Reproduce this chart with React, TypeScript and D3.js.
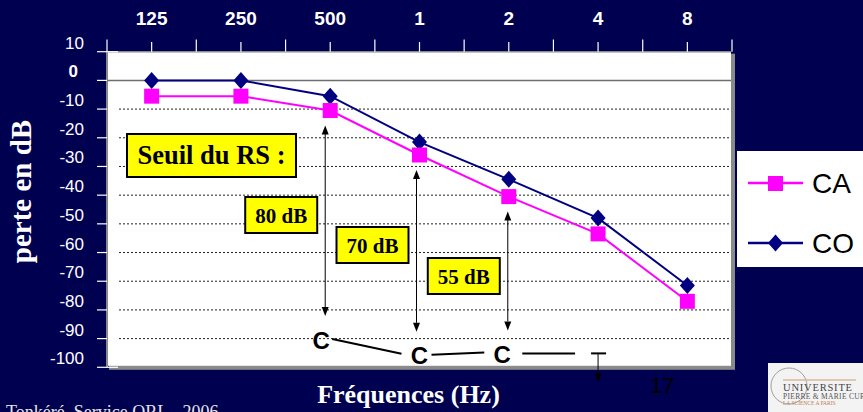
import React from "react";
import * as d3 from "d3";

// Audiogram: air conduction (CA) and bone conduction (CO) thresholds, in dB
const freqLabels = ["125", "250", "500", "1", "2", "4", "8"];
const caValues = [-5.5, -5.5, -10.5, -26, -40.5, -53.5, -77];
const coValues = [0, 0, -5.5, -21.5, -34.5, -48, -71.5];
const yTickValues = [10, 0, -10, -20, -30, -40, -50, -60, -70, -80, -90, -100];

// Stapedial reflex (RS) thresholds above the CA threshold
const rsFreqs = ["500", "1", "2"];
const rsLevels = [80, 70, 55];
const rsLabels = ["80 dB", "70 dB", "55 dB"];
const rsAbsentFreq = "4";

const W = 863;
const H = 412;
const BG = "#000050";
const SANS = "'Liberation Sans', Arial, sans-serif";
const SERIF = "'Liberation Serif', 'Times New Roman', serif";

const plot = { left: 107, right: 732, top: 51.7, bottom: 367.3 };

// Label box placement for each RS arrow (top) and x shift of arrows / letters
const rsBoxTops = [197, 227, 258];
const rsArrowShift = [-5, -3, -1];
const rsLetterShift = [-9, 0, -6.5];

export default function App() {
  const x = d3
    .scaleBand<string>()
    .domain(freqLabels)
    .range([plot.left, plot.right])
    .paddingInner(0)
    .paddingOuter(0);
  const bw = x.bandwidth();
  const cx = (f: string) => (x(f) as number) + bw / 2;
  const y = d3.scaleLinear().domain([-100, 10]).range([plot.bottom, plot.top]);

  const line = d3
    .line<number>()
    .x((_, i) => cx(freqLabels[i]))
    .y((v) => y(v));

  const boundaries = d3.range(freqLabels.length + 1).map((i) => plot.left + i * bw);

  const diamond = (px: number, py: number) =>
    `M${px},${py - 8.5} L${px + 7.5},${py} L${px},${py + 8.5} L${px - 7.5},${py} Z`;

  // RS points (the "C" letters) computed from CA threshold minus reflex level
  const rsPoints = rsFreqs.map((f, i) => {
    const idx = freqLabels.indexOf(f);
    const ca = caValues[idx];
    const val = ca - rsLevels[i];
    return {
      f,
      ax: cx(f) + rsArrowShift[i],
      lx: cx(f) + rsLetterShift[i],
      yTop: y(ca) + 15,
      yC: y(val),
      label: rsLabels[i],
      boxTop: rsBoxTops[i],
    };
  });
  const absentX = cx(rsAbsentFreq);
  const lastC = rsPoints[rsPoints.length - 1];
  const absentY = lastC.yC - 1;

  const arrowHead = (px: number, py: number, dir: 1 | -1) =>
    `M${px - 3.5},${py - dir * 9} L${px},${py} L${px + 3.5},${py - dir * 9} Z`;

  return (
    <div style={{ position: "fixed", left: 0, top: 0, width: W, height: H }}>
      <svg width={W} height={H} viewBox={`0 0 ${W} ${H}`} style={{ display: "block" }}>
        <rect x={0} y={0} width={W} height={H} fill={BG} />

        {/* plot shadow and area */}
        <rect
          x={plot.left + 2}
          y={plot.top + 2}
          width={plot.right - plot.left + 1}
          height={plot.bottom - plot.top + 0.5}
          fill="#8a8a8a"
        />
        <rect
          x={plot.left}
          y={plot.top}
          width={plot.right - plot.left - 1}
          height={plot.bottom - plot.top - 1.5}
          fill="#ffffff"
        />
        <line x1={plot.left} x2={plot.right - 1} y1={plot.top} y2={plot.top} stroke="#8a8a8a" strokeWidth={1.5} />
        <line x1={plot.left} x2={plot.left} y1={plot.top} y2={plot.bottom} stroke="#8a8a8a" strokeWidth={2} />

        {/* grid */}
        {yTickValues
          .filter((v) => v < 10 && v > -100)
          .map((v) =>
            v === 0 ? (
              <line key={v} x1={plot.left} x2={plot.right - 1} y1={y(v)} y2={y(v)} stroke="#6e6e6e" strokeWidth={1.5} />
            ) : (
              <line
                key={v}
                x1={plot.left + 12}
                x2={plot.right - 1}
                y1={y(v)}
                y2={y(v)}
                stroke="#222"
                strokeWidth={1}
                strokeDasharray="2 2"
              />
            )
          )}

        {/* y axis ticks and labels */}
        {yTickValues.map((v) => (
          <g key={v}>
            <line x1={97} x2={v === 10 || v === -100 ? 118 : 107} y1={y(v)} y2={y(v)} stroke="#ffffff" strokeWidth={1.2} />
            <text
              x={v === 0 ? 78 : 84}
              y={y(v) - 3}
              textAnchor="end"
              fontFamily={SANS}
              fontSize={17}
              fontWeight={v === 0 ? "bold" : "normal"}
              fill="#ffffff"
            >
              {v}
            </text>
          </g>
        ))}

        {/* top frequency axis */}
        {boundaries.map((bx, i) => (
          <line key={"b" + i} x1={bx} x2={bx} y1={39.5} y2={plot.top} stroke="#ffffff" strokeWidth={1.2} />
        ))}
        {freqLabels.map((f) => (
          <g key={f}>
            <line x1={cx(f)} x2={cx(f)} y1={42} y2={plot.top} stroke="#ffffff" strokeWidth={1.2} />
            <text x={cx(f)} y={25} textAnchor="middle" fontFamily={SANS} fontSize={19} fontWeight="bold" fill="#ffffff">
              {f}
            </text>
          </g>
        ))}

        {/* series */}
        <path d={line(caValues) || ""} fill="none" stroke="#ff00ff" strokeWidth={2} />
        <path d={line(coValues) || ""} fill="none" stroke="#000080" strokeWidth={2} />
        {coValues.map((v, i) => (
          <path key={"co" + i} d={diamond(cx(freqLabels[i]), y(v))} fill="#000080" />
        ))}
        {caValues.map((v, i) => (
          <rect key={"ca" + i} x={cx(freqLabels[i]) - 7.5} y={y(v) - 7.5} width={15} height={15} fill="#ff00ff" />
        ))}

        {/* RS annotations */}
        <rect x={127} y={134} width={169} height={43} fill="#ffff00" stroke="#000" strokeWidth={2} />
        <text x={211.5} y={164} textAnchor="middle" fontFamily={SERIF} fontWeight="bold" fontSize={26.5} fill="#000">
          Seuil du RS :
        </text>

        {rsPoints.map((p) => (
          <g key={p.f}>
            <line x1={p.ax} x2={p.ax} y1={p.yTop + 8} y2={p.yC - 33} stroke="#000" strokeWidth={1} />
            <path d={arrowHead(p.ax, p.yTop, -1)} fill="#000" />
            <path d={arrowHead(p.ax, p.yC - 24, 1)} fill="#000" />
            <rect x={p.ax - 80} y={p.boxTop} width={72} height={36} fill="#ffff00" stroke="#000" strokeWidth={2} />
            <text
              x={p.ax - 44}
              y={p.boxTop + 25.5}
              textAnchor="middle"
              fontFamily={SERIF}
              fontWeight="bold"
              fontSize={21}
              fill="#000"
            >
              {p.label}
            </text>
            <text
              x={p.lx}
              y={p.yC}
              dy="0.36em"
              textAnchor="middle"
              fontFamily={SANS}
              fontWeight="bold"
              fontSize={24}
              fill="#000"
            >
              C
            </text>
          </g>
        ))}
        {rsPoints.slice(0, -1).map((p, i) => {
          const q = rsPoints[i + 1];
          const x1 = p.lx + (i === 0 ? 11 : 12);
          const x2 = q.lx - 18;
          return <line key={"cl" + i} x1={x1} y1={p.yC - 1} x2={x2} y2={q.yC - 2} stroke="#000" strokeWidth={2} />;
        })}
        <line x1={lastC.lx + 20} x2={absentX - 23} y1={absentY} y2={absentY} stroke="#000" strokeWidth={2} />
        <line x1={absentX - 7} x2={absentX + 8} y1={absentY} y2={absentY} stroke="#000" strokeWidth={2} />
        <line x1={absentX} x2={absentX} y1={absentY} y2={absentY + 22} stroke="#000" strokeWidth={1} />
        <path d={arrowHead(absentX, absentY + 29, 1)} fill="#000" />

        {/* legend */}
        <rect x={737} y={151} width={140} height={116} fill="#ffffff" />
        <line x1={748} x2={803} y1={183} y2={183} stroke="#ff00ff" strokeWidth={2.5} />
        <rect x={768} y={176} width={15} height={15} fill="#ff00ff" />
        <text x={812} y={193} fontFamily={SANS} fontSize={28} fill="#000">
          CA
        </text>
        <line x1={748} x2={803} y1={243} y2={243} stroke="#000080" strokeWidth={2.5} />
        <path d={diamond(775.5, 243)} fill="#000080" />
        <text x={812} y={253} fontFamily={SANS} fontSize={28} fill="#000">
          CO
        </text>

        {/* titles */}
        <text
          transform="translate(31,191.5) rotate(-90)"
          textAnchor="middle"
          fontFamily={SERIF}
          fontWeight="bold"
          fontSize={29}
          fill="#ffffff"
        >
          perte en dB
        </text>
        <text x={408.5} y={403} textAnchor="middle" fontFamily={SERIF} fontWeight="bold" fontSize={26} fill="#ffffff">
          Fréquences (Hz)
        </text>
        <text x={650} y={393} fontFamily={SANS} fontSize={22} fill="#000">
          17
        </text>
        <text x={6} y={418} fontFamily={SERIF} fontSize={18} fill="#e6e6e6">
          Tonkéré, Service ORL - 2006
        </text>

        {/* university logo */}
        <g>
          <rect x={768} y={363} width={100} height={52} fill="#f3f3f3" />
          <circle cx={789} cy={386} r={18} fill="none" stroke="#a0a0a0" strokeWidth={1} />
          <line x1={783} x2={856} y1={380} y2={380} stroke="#d9b89a" strokeWidth={1.5} />
          <text x={783} y={391} fontFamily={SERIF} fontSize={10.5} letterSpacing={0.8} fill="#444">
            UNIVERSITE
          </text>
          <text x={783} y={398.5} fontFamily={SERIF} fontSize={7.5} letterSpacing={0.3} fill="#555">
            PIERRE &amp; MARIE CURIE
          </text>
          <text x={783} y={404.5} fontFamily={SERIF} fontSize={5.5} fill="#c08050">
            LA SCIENCE A PARIS
          </text>
        </g>
      </svg>
    </div>
  );
}
